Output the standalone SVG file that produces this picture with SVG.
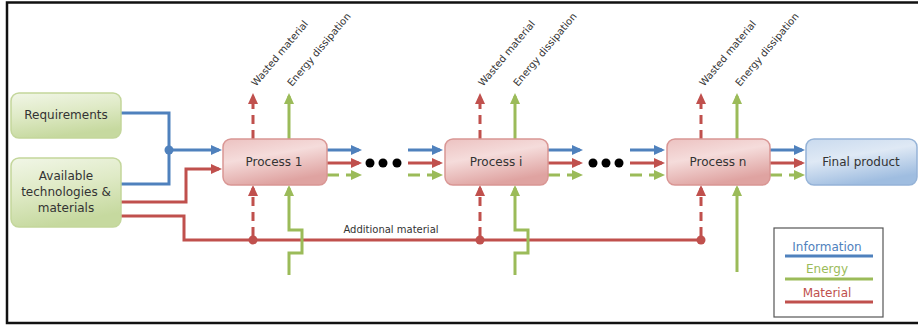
<svg xmlns="http://www.w3.org/2000/svg" width="918" height="326" viewBox="0 0 918 326">
<defs>
<linearGradient id="gGreen" x1="0" y1="0" x2="0.3" y2="1">
<stop offset="0" stop-color="#f1f6e7"/><stop offset="0.5" stop-color="#dfeac6"/><stop offset="1" stop-color="#c6d99f"/>
</linearGradient>
<linearGradient id="gRed" x1="0" y1="0" x2="0.4" y2="1">
<stop offset="0" stop-color="#ecc2c1"/><stop offset="0.45" stop-color="#f5dcdb"/><stop offset="1" stop-color="#dfa3a1"/>
</linearGradient>
<linearGradient id="gBlue" x1="0" y1="0" x2="0.4" y2="1">
<stop offset="0" stop-color="#c9daee"/><stop offset="0.45" stop-color="#dfe9f5"/><stop offset="1" stop-color="#9fbde0"/>
</linearGradient>
<marker id="aB" markerUnits="userSpaceOnUse" markerWidth="12" markerHeight="10" refX="8" refY="5" orient="auto"><path d="M0,0 L11,5 L0,10 z" fill="#4f81bd"/></marker>
<marker id="aR" markerUnits="userSpaceOnUse" markerWidth="12" markerHeight="10" refX="8" refY="5" orient="auto"><path d="M0,0 L11,5 L0,10 z" fill="#c0504d"/></marker>
<marker id="aG" markerUnits="userSpaceOnUse" markerWidth="12" markerHeight="10" refX="8" refY="5" orient="auto"><path d="M0,0 L11,5 L0,10 z" fill="#9bbb59"/></marker>
</defs>
<style>
.t{font-family:"DejaVu Sans",Verdana,sans-serif;fill:#333;}
.box{font-size:12px;text-anchor:middle;}
.lbl{font-size:10px;}
.b{stroke:#4f81bd;stroke-width:3;fill:none;}
.r{stroke:#c0504d;stroke-width:3;fill:none;}
.g{stroke:#9bbb59;stroke-width:3;fill:none;}
.dr{stroke-dasharray:9 6;}
.dg{stroke-dasharray:12 7;}
.gn{fill:url(#gGreen);stroke:#c3d69b;stroke-width:1.5;}
.pr{fill:url(#gRed);stroke:#d99694;stroke-width:1.5;}
.pb{fill:url(#gBlue);stroke:#95b3d7;stroke-width:1.5;}
</style>
<rect x="0" y="0" width="918" height="326" fill="#fff"/>
<path d="M918,2.5 H7 V323 H918" fill="none" stroke="#111" stroke-width="2.5"/>

<g id="connectors">
<!-- inputs -->
<path class="b" d="M121,113 H169 V184 H121"/>
<path class="b" d="M169,150 H219" marker-end="url(#aB)"/>
<circle cx="169" cy="150" r="4.5" fill="#4f81bd"/>
<path class="r" d="M121,202 H186 V169 H219" marker-end="url(#aR)"/>
<path class="r" d="M121,216 H184 V240 H701"/>
<circle cx="253" cy="240" r="4.5" fill="#c0504d"/>
<circle cx="480" cy="240" r="4.5" fill="#c0504d"/>
<circle cx="701" cy="240" r="4.5" fill="#c0504d"/>
<!-- Process 1 -->
<path class="r dr" d="M253,139 V96" marker-end="url(#aR)"/>
<path class="g" d="M289,139 V96" marker-end="url(#aG)"/>
<path class="r dr" d="M253,236 V188" marker-end="url(#aR)"/>
<path class="g" d="M289,275 V253 H302 V230 H289 V188" marker-end="url(#aG)"/>
<path class="b" d="M327,150 H359" marker-end="url(#aB)"/>
<path class="r" d="M327,163 H359" marker-end="url(#aR)"/>
<path class="g dg" d="M327,175 H359" marker-end="url(#aG)"/>
<path class="b" d="M408,150 H440" marker-end="url(#aB)"/>
<path class="r" d="M408,163 H440" marker-end="url(#aR)"/>
<path class="g dg" d="M408,175 H440" marker-end="url(#aG)"/>
<!-- Process i -->
<path class="r dr" d="M480,139 V96" marker-end="url(#aR)"/>
<path class="g" d="M515,139 V96" marker-end="url(#aG)"/>
<path class="r dr" d="M480,236 V188" marker-end="url(#aR)"/>
<path class="g" d="M515,275 V253 H528 V230 H515 V188" marker-end="url(#aG)"/>
<path class="b" d="M548,150 H580" marker-end="url(#aB)"/>
<path class="r" d="M548,163 H580" marker-end="url(#aR)"/>
<path class="g dg" d="M548,175 H580" marker-end="url(#aG)"/>
<path class="b" d="M630,150 H662" marker-end="url(#aB)"/>
<path class="r" d="M630,163 H662" marker-end="url(#aR)"/>
<path class="g dg" d="M630,175 H662" marker-end="url(#aG)"/>
<!-- Process n -->
<path class="r dr" d="M701,139 V96" marker-end="url(#aR)"/>
<path class="g" d="M737,139 V96" marker-end="url(#aG)"/>
<path class="r dr" d="M701,236 V188" marker-end="url(#aR)"/>
<path class="g" d="M737,272 V188" marker-end="url(#aG)"/>
<path class="b" d="M770,150 H802" marker-end="url(#aB)"/>
<path class="r" d="M770,163 H802" marker-end="url(#aR)"/>
<path class="g dg" d="M770,175 H802" marker-end="url(#aG)"/>
<!-- ellipses -->
<circle cx="370" cy="163" r="4.5" fill="#000"/>
<circle cx="383" cy="163" r="4.5" fill="#000"/>
<circle cx="397" cy="163" r="4.5" fill="#000"/>
<circle cx="593" cy="163" r="4.5" fill="#000"/>
<circle cx="606" cy="163" r="4.5" fill="#000"/>
<circle cx="619" cy="163" r="4.5" fill="#000"/>
<text class="t lbl" x="391" y="233" text-anchor="middle">Additional material</text>
<text class="t lbl" x="256" y="87" transform="rotate(-50 256 87)">Wasted material</text>
<text class="t lbl" x="292" y="87" transform="rotate(-50 292 87)">Energy dissipation</text>
<text class="t lbl" x="483" y="87" transform="rotate(-50 483 87)">Wasted material</text>
<text class="t lbl" x="518" y="87" transform="rotate(-50 518 87)">Energy dissipation</text>
<text class="t lbl" x="704" y="87" transform="rotate(-50 704 87)">Wasted material</text>
<text class="t lbl" x="740" y="87" transform="rotate(-50 740 87)">Energy dissipation</text>
</g>

<g id="requirements">
<rect class="gn" x="11" y="93" width="110" height="45" rx="8"/>
<text class="t box" x="66" y="119">Requirements</text>
</g>
<g id="available">
<rect class="gn" x="11" y="158" width="110" height="69" rx="8"/>
<text class="t box" x="66" y="180">Available</text>
<text class="t box" x="66" y="196">technologies &amp;</text>
<text class="t box" x="66" y="212">materials</text>
</g>
<g id="process1">
<rect class="pr" x="223" y="139" width="104" height="46" rx="8"/>
<text class="t box" x="274" y="166">Process 1</text>
</g>
<g id="processi">
<rect class="pr" x="445" y="139" width="103" height="46" rx="8"/>
<text class="t box" x="496" y="166">Process i</text>
</g>
<g id="processn">
<rect class="pr" x="667" y="139" width="103" height="46" rx="8"/>
<text class="t box" x="718" y="166">Process n</text>
</g>
<g id="finalproduct">
<rect class="pb" x="806" y="139" width="111" height="46" rx="8"/>
<text class="t box" x="861" y="166">Final product</text>
</g>
<g id="legend">
<rect x="774" y="228" width="109" height="89" fill="#fff" stroke="#555" stroke-width="1.2"/>
<text class="t" x="827" y="251" text-anchor="middle" font-size="12" style="fill:#4f81bd">Information</text>
<line class="b" x1="785" y1="256" x2="873" y2="256"/>
<text class="t" x="827" y="273" text-anchor="middle" font-size="12" style="fill:#9bbb59">Energy</text>
<line class="g" x1="785" y1="279" x2="873" y2="279"/>
<text class="t" x="827" y="297" text-anchor="middle" font-size="12" style="fill:#c0504d">Material</text>
<line class="r" x1="785" y1="302" x2="873" y2="302"/>
</g>
</svg>
